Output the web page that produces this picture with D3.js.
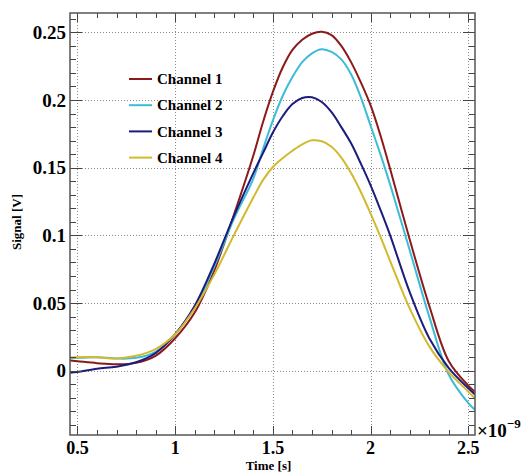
<!DOCTYPE html>
<html>
<head>
<meta charset="utf-8">
<script src="https://cdn.jsdelivr.net/npm/d3@7"></script>
<style>
  body { margin: 0; background: #fff; }
  svg { display: block; }
</style>
</head>
<body>
<div id="chart"></div>
<script>
// sample times, in units of 1e-9 s
const time = [0.462, 0.5, 0.6, 0.7, 0.8, 0.9, 1.0, 1.1, 1.2, 1.3, 1.4, 1.45, 1.5, 1.55, 1.6, 1.65, 1.7, 1.75, 1.8, 1.85, 1.9, 1.95, 2.0, 2.05, 2.1, 2.2, 2.3, 2.4, 2.5, 2.534];

const channel1 = [0.0075, 0.007, 0.0056, 0.0048, 0.0058, 0.011, 0.024, 0.043, 0.074, 0.115, 0.159, 0.184, 0.206, 0.224, 0.237, 0.2445, 0.249, 0.2505, 0.248, 0.24, 0.228, 0.213, 0.196, 0.174, 0.149, 0.097, 0.048, 0.007, -0.011, -0.0155];
const channel2 = [0.009, 0.0095, 0.01, 0.009, 0.0095, 0.014, 0.027, 0.047, 0.077, 0.112, 0.142, 0.164, 0.185, 0.203, 0.217, 0.228, 0.2345, 0.2375, 0.2355, 0.23, 0.219, 0.202, 0.181, 0.16, 0.1375, 0.089, 0.04, -0.003, -0.024, -0.029];
const channel3 = [-0.0015, -0.001, 0.0015, 0.003, 0.0062, 0.013, 0.027, 0.048, 0.079, 0.114, 0.146, 0.161, 0.176, 0.188, 0.197, 0.2015, 0.202, 0.1985, 0.191, 0.18, 0.168, 0.153, 0.137, 0.119, 0.1, 0.058, 0.024, 0.002, -0.013, -0.0175];
const channel4 = [0.0098, 0.01, 0.0099, 0.009, 0.011, 0.016, 0.027, 0.046, 0.071, 0.1, 0.128, 0.141, 0.1505, 0.157, 0.1625, 0.1672, 0.1702, 0.1695, 0.1655, 0.1575, 0.146, 0.132, 0.116, 0.099, 0.081, 0.046, 0.018, -0.001, -0.0155, -0.0205];

const seriesNames = ["Channel 1", "Channel 2", "Channel 3", "Channel 4"];
const seriesColors = ["#8c1a1a", "#3dbcd6", "#1c1c7e", "#d2b92e"];
const xTicks = [0.5, 1, 1.5, 2, 2.5];
const yTicks = [0, 0.05, 0.1, 0.15, 0.2, 0.25];

const width = 525, height = 472;
const frame = { left: 70, right: 475, top: 13, bottom: 435 };

// Times-like bold text everywhere
const styleText = (sel, size) => sel
  .style("font-family", '"Liberation Serif"')
  .style("font-weight", "bold")
  .style("font-size", size + "px");

const svg = d3.select("#chart").append("svg")
  .attr("width", width)
  .attr("height", height);

const x = d3.scaleLinear().domain([0.462, 2.534]).range([frame.left, frame.right]);
const y = d3.scaleLinear().domain([-0.0475, 0.2643]).range([frame.bottom, frame.top]);

// dotted grid at the major ticks
const grid = svg.append("g").attr("stroke", "#8a8a8a").attr("stroke-width", 1)
  .attr("stroke-dasharray", "1,2");
grid.selectAll("line.v").data(xTicks).join("line").attr("class", "v")
  .attr("x1", d => Math.round(x(d)) + 0.5).attr("x2", d => Math.round(x(d)) + 0.5)
  .attr("y1", frame.top).attr("y2", frame.bottom);
grid.selectAll("line.h").data(yTicks).join("line").attr("class", "h")
  .attr("y1", d => Math.round(y(d)) + 0.5).attr("y2", d => Math.round(y(d)) + 0.5)
  .attr("x1", frame.left).attr("x2", frame.right);

// curves
const series = [channel1, channel2, channel3, channel4];
const line = d3.line()
  .x((d, i) => x(time[i]))
  .y(d => y(d))
  .curve(d3.curveCatmullRom.alpha(0.5));

svg.append("clipPath").attr("id", "frame-clip").append("rect")
  .attr("x", frame.left).attr("y", frame.top)
  .attr("width", frame.right - frame.left).attr("height", frame.bottom - frame.top);

svg.append("g").attr("clip-path", "url(#frame-clip)")
  .selectAll("path").data(series).join("path")
  .attr("d", line)
  .attr("fill", "none")
  .attr("stroke", (d, i) => seriesColors[i])
  .attr("stroke-width", 2)
  .attr("stroke-linejoin", "round");

// ticks (inward, all four sides, ROOT style)
const xMinor = d3.range(5, 26).map(v => v / 10).filter(v => !xTicks.includes(v));
const yMinor = d3.range(-4, 27).map(v => v / 100).filter(v => Math.abs(v * 20 - Math.round(v * 20)) > 1e-6);

const ticks = svg.append("g").attr("stroke", "#444").attr("stroke-width", 1);
function xTick(vals, len) {
  vals.forEach(v => {
    const px = Math.round(x(v)) + 0.5;
    ticks.append("line").attr("x1", px).attr("x2", px).attr("y1", frame.bottom).attr("y2", frame.bottom - len);
    ticks.append("line").attr("x1", px).attr("x2", px).attr("y1", frame.top).attr("y2", frame.top + len);
  });
}
function yTick(vals, len) {
  vals.forEach(v => {
    const py = Math.round(y(v)) + 0.5;
    ticks.append("line").attr("y1", py).attr("y2", py).attr("x1", frame.left).attr("x2", frame.left + len);
    ticks.append("line").attr("y1", py).attr("y2", py).attr("x1", frame.right).attr("x2", frame.right - len);
  });
}
xTick(xTicks, 9);
xTick(xMinor, 5);
yTick(yTicks, 12);
yTick(yMinor, 6);

// frame
svg.append("rect")
  .attr("x", frame.left).attr("y", frame.top)
  .attr("width", frame.right - frame.left).attr("height", frame.bottom - frame.top)
  .attr("fill", "none").attr("stroke", "#555").attr("stroke-width", 1.5);

// tick labels
svg.append("g").selectAll("text").data(xTicks).join("text")
  .attr("x", d => x(d)).attr("y", 454)
  .attr("text-anchor", "middle")
  .call(styleText, 18)
  .text(d => d3.format("")(d));

svg.append("g").selectAll("text").data(yTicks).join("text")
  .attr("x", 66).attr("y", d => y(d) + 6.5)
  .attr("text-anchor", "end")
  .call(styleText, 19)
  .text(d => d3.format("")(d));

// axis titles
svg.append("text")
  .attr("x", (frame.left + frame.right) / 2 - 4).attr("y", 470)
  .attr("text-anchor", "middle")
  .call(styleText, 13)
  .text("Time [s]");

svg.append("text")
  .attr("transform", `translate(21,${(frame.top + frame.bottom) / 2 - 2}) rotate(-90)`)
  .attr("text-anchor", "middle")
  .call(styleText, 13)
  .text("Signal [V]");

// exponent label
const expo = svg.append("text")
  .attr("x", 477).attr("y", 437)
  .call(styleText, 19);
expo.append("tspan").text("\u00d710");
expo.append("tspan").attr("dy", -9).style("font-size", "13px").text("\u22129");

// legend
const legend = svg.append("g").selectAll("g").data(seriesNames).join("g")
  .attr("transform", (d, i) => `translate(129,${79 + i * 26.2})`);
legend.append("line")
  .attr("x1", 0).attr("x2", 23)
  .attr("stroke", (d, i) => seriesColors[i]).attr("stroke-width", 2);
legend.append("text")
  .attr("x", 28).attr("dy", "0.35em")
  .call(styleText, 15)
  .text(d => d);
</script>
</body>
</html>
